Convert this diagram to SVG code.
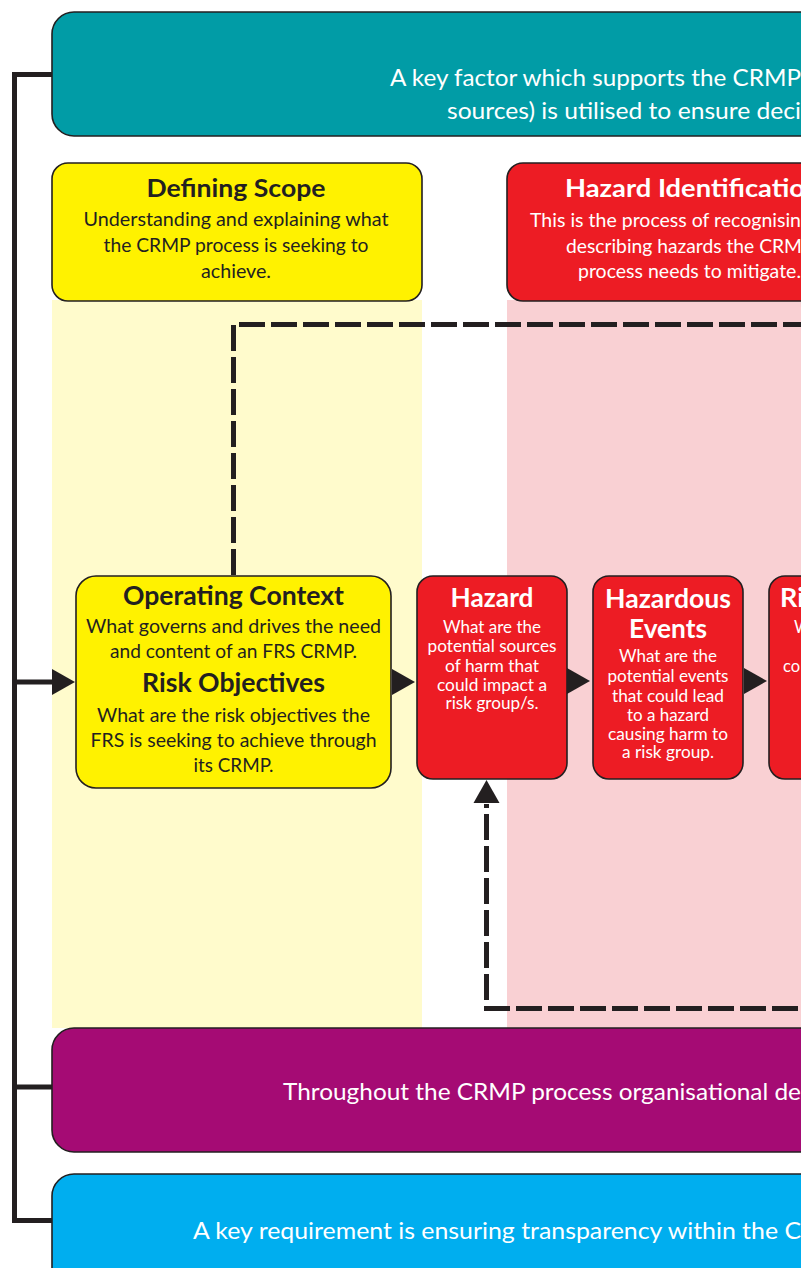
<svg xmlns="http://www.w3.org/2000/svg" width="801" height="1268" viewBox="0 0 801 1268">
<style>
  .box{stroke:#231f20;stroke-width:1.6}
  .teal{fill:#019ca6}
  .yel{fill:#fff200}
  .red{fill:#ed1c24}
  .pur{fill:#a50b74}
  .blu{fill:#00aeef}
  text{font-family:Lato,"Open Sans","Liberation Sans",sans-serif}
  .band{font-size:23px;fill:#ffffff}
  .t-dk{font-weight:bold;fill:#231f20;text-anchor:middle}
  .b-dk{fill:#231f20;text-anchor:middle;font-size:20px}
  .t-wh{font-weight:bold;fill:#ffffff}
  .b-wh{fill:#ffffff;font-size:20px}
  .s-wh{fill:#ffffff;font-size:16.5px;text-anchor:middle}
  .mid{text-anchor:middle}
  .wire{fill:none;stroke:#231f20;stroke-width:5;stroke-linejoin:miter}
  .dash{fill:none;stroke:#231f20;stroke-width:5;stroke-dasharray:26 6}
  .head{fill:#231f20}
</style>
<defs>
  <polygon id="tri" class="head" points="0,-13 23,0 0,13"/>
</defs>
<rect width="801" height="1268" fill="#ffffff"/>

<!-- column backgrounds -->
<rect x="52" y="300" width="370" height="728" fill="#fffbcc"/>
<rect x="507" y="300" width="320" height="728" fill="#f9d0d3"/>

<g id="band-top">
  <rect class="box teal" x="52" y="12" width="800" height="124" rx="22"/>
  <text class="band" x="390" y="86" textLength="411" lengthAdjust="spacingAndGlyphs">A key factor which supports the CRMP</text>
  <text class="band" x="447" y="119" textLength="354" lengthAdjust="spacingAndGlyphs">sources) is utilised to ensure deci</text>
</g>

<g id="defining-scope">
  <rect class="box yel" x="52" y="163" width="370" height="138" rx="16"/>
  <text class="t-dk" x="236" y="197" font-size="25" textLength="179" lengthAdjust="spacingAndGlyphs">Defining Scope</text>
  <text class="b-dk" x="236" y="226" textLength="305" lengthAdjust="spacingAndGlyphs">Understanding and explaining what</text>
  <text class="b-dk" x="236" y="252" textLength="265" lengthAdjust="spacingAndGlyphs">the CRMP process is seeking to</text>
  <text class="b-dk" x="236" y="278" textLength="70" lengthAdjust="spacingAndGlyphs">achieve.</text>
</g>

<g id="hazard-identification">
  <rect class="box red" x="507" y="163" width="370" height="138" rx="16"/>
  <text class="t-wh" x="565" y="197" font-size="25" textLength="240" lengthAdjust="spacingAndGlyphs">Hazard Identificatio</text>
  <text class="b-wh" x="530" y="227" textLength="271" lengthAdjust="spacingAndGlyphs">This is the process of recognisin</text>
  <text class="b-wh" x="566" y="253" textLength="236" lengthAdjust="spacingAndGlyphs">describing hazards the CRM</text>
  <text class="b-wh" x="578" y="278" textLength="223" lengthAdjust="spacingAndGlyphs">process needs to mitigate.</text>
</g>

<g id="operating-context">
  <rect class="box yel" x="76" y="576" width="315" height="212" rx="20"/>
  <text class="t-dk" x="233.5" y="605" font-size="27" textLength="221" lengthAdjust="spacingAndGlyphs">Operating Context</text>
  <text class="b-dk" x="233.5" y="633" textLength="295" lengthAdjust="spacingAndGlyphs">What governs and drives the need</text>
  <text class="b-dk" x="233.5" y="658" textLength="247" lengthAdjust="spacingAndGlyphs">and content of an FRS CRMP.</text>
  <text class="t-dk" x="233.5" y="692" font-size="27" textLength="183" lengthAdjust="spacingAndGlyphs">Risk Objectives</text>
  <text class="b-dk" x="233.5" y="722" textLength="273" lengthAdjust="spacingAndGlyphs">What are the risk objectives the</text>
  <text class="b-dk" x="233.5" y="747" textLength="286" lengthAdjust="spacingAndGlyphs">FRS is seeking to achieve through</text>
  <text class="b-dk" x="233.5" y="772" textLength="80" lengthAdjust="spacingAndGlyphs">its CRMP.</text>
</g>

<g id="hazard">
  <rect class="box red" x="417" y="576" width="150" height="203" rx="16"/>
  <text class="t-wh mid" x="492" y="607" font-size="27" textLength="83" lengthAdjust="spacingAndGlyphs">Hazard</text>
  <text class="s-wh" x="492" y="633" textLength="98" lengthAdjust="spacingAndGlyphs">What are the</text>
  <text class="s-wh" x="492" y="652" textLength="129" lengthAdjust="spacingAndGlyphs">potential sources</text>
  <text class="s-wh" x="492" y="672" textLength="94" lengthAdjust="spacingAndGlyphs">of harm that</text>
  <text class="s-wh" x="492" y="691" textLength="110" lengthAdjust="spacingAndGlyphs">could impact a</text>
  <text class="s-wh" x="492" y="709" textLength="93" lengthAdjust="spacingAndGlyphs">risk group/s.</text>
</g>

<g id="hazardous-events">
  <rect class="box red" x="593" y="576" width="150" height="203" rx="16"/>
  <text class="t-wh mid" x="668" y="608" font-size="27" textLength="126" lengthAdjust="spacingAndGlyphs">Hazardous</text>
  <text class="t-wh mid" x="668" y="638" font-size="27" textLength="78" lengthAdjust="spacingAndGlyphs">Events</text>
  <text class="s-wh" x="668" y="662" textLength="98" lengthAdjust="spacingAndGlyphs">What are the</text>
  <text class="s-wh" x="668" y="682" textLength="121" lengthAdjust="spacingAndGlyphs">potential events</text>
  <text class="s-wh" x="668" y="702" textLength="112" lengthAdjust="spacingAndGlyphs">that could lead</text>
  <text class="s-wh" x="668" y="721" textLength="82" lengthAdjust="spacingAndGlyphs">to a hazard</text>
  <text class="s-wh" x="668" y="740" textLength="120" lengthAdjust="spacingAndGlyphs">causing harm to</text>
  <text class="s-wh" x="668" y="758" textLength="92" lengthAdjust="spacingAndGlyphs">a risk group.</text>
</g>

<g id="risk-box">
  <rect class="box red" x="769" y="576" width="150" height="203" rx="16"/>
  <text class="t-wh" x="780" y="607" font-size="27">Ri</text>
  <text class="s-wh" x="794" y="633" style="text-anchor:start">W</text>
  <text class="s-wh" x="783" y="672" style="text-anchor:start">co</text>
</g>

<g id="band-purple">
  <rect class="box pur" x="52" y="1028" width="800" height="124" rx="22"/>
  <text class="band" x="283" y="1100" textLength="518" lengthAdjust="spacingAndGlyphs">Throughout the CRMP process organisational de</text>
</g>

<g id="band-blue">
  <rect class="box blu" x="52" y="1174" width="800" height="140" rx="22"/>
  <text class="band" x="193" y="1239" textLength="608" lengthAdjust="spacingAndGlyphs">A key requirement is ensuring transparency within the C</text>
</g>

<g id="connectors">
  <path class="wire" d="M52,74.5 H14.5 V1220.5 H52"/>
  <path class="wire" d="M14.5,682 H53"/>
  <path class="wire" d="M14.5,1087 H52"/>
  <use href="#tri" transform="translate(52,682)"/>
  <use href="#tri" transform="translate(392,682)"/>
  <use href="#tri" transform="translate(567,681)"/>
  <use href="#tri" transform="translate(744,681)"/>
  <path class="dash" d="M233.5,575 V324.5 H830"/>
  <path class="dash" d="M830,1008.5 H486.5 V804"/>
  <use href="#tri" transform="translate(486.5,803) rotate(-90)"/>
</g>
</svg>
